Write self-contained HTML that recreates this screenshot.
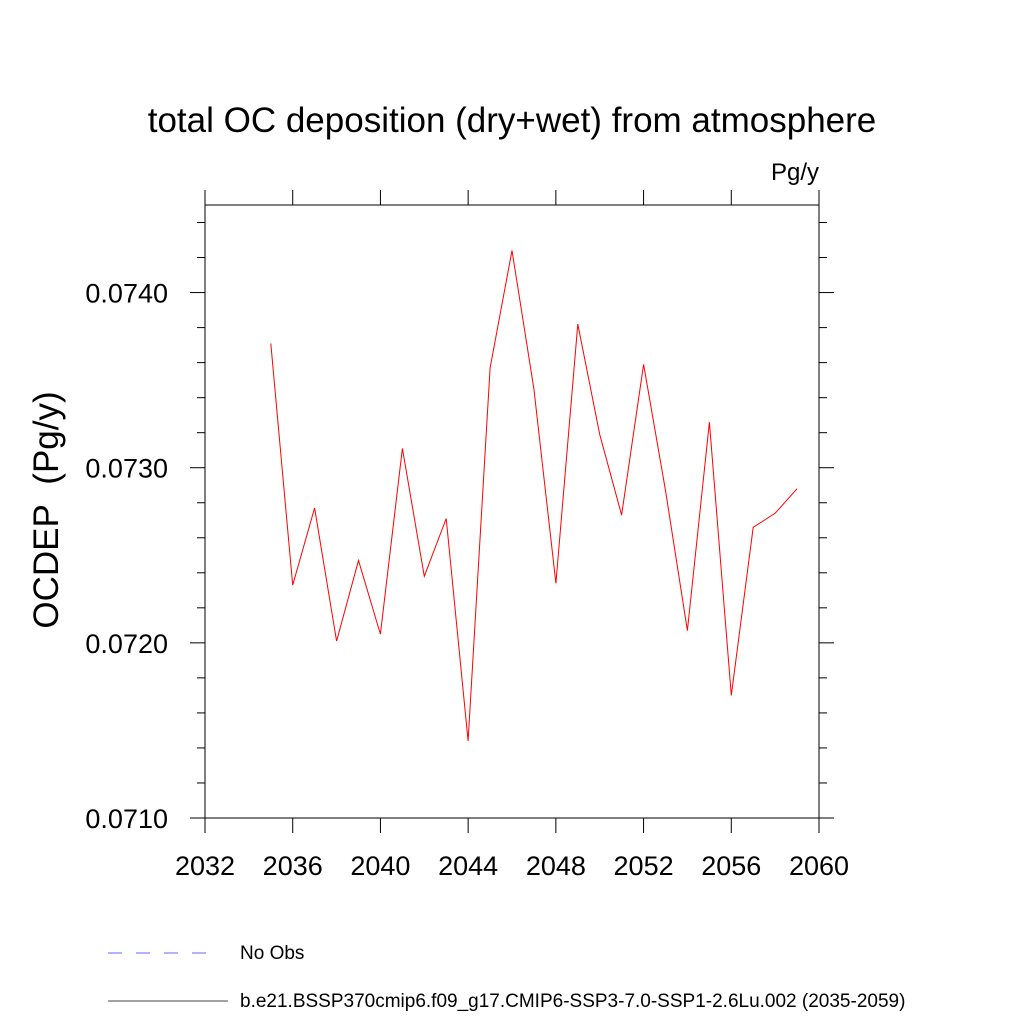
<!DOCTYPE html>
<html><head><meta charset="utf-8"><style>
body{margin:0;background:#fff;}
svg text{font-family:"Liberation Sans",sans-serif;}
</style></head><body>
<svg id="chart" width="1024" height="1024" xmlns="http://www.w3.org/2000/svg">
<text x="512" y="132" font-size="35" text-anchor="middle">total OC deposition (dry+wet) from atmosphere</text>
<text x="819" y="180" font-size="24" text-anchor="end">Pg/y</text>
<text transform="translate(58,510) rotate(-90)" font-size="35" text-anchor="middle">OCDEP&#160;&#160;(Pg/y)</text>
<g id="axes"></g>
<path id="series" fill="none" stroke="#ff0000" stroke-width="1"/>
<line x1="108" y1="953" x2="218" y2="953" stroke="#6666ff" stroke-width="1" stroke-dasharray="14,14"/>
<text x="240" y="959" font-size="19">No Obs</text>
<line x1="108" y1="1001" x2="228" y2="1001" stroke="#444" stroke-width="1"/>
<text x="240" y="1007" font-size="19">b.e21.BSSP370cmip6.f09_g17.CMIP6-SSP3-7.0-SSP1-2.6Lu.002 (2035-2059)</text>
</svg>
<script>
const years=[2035,2036,2037,2038,2039,2040,2041,2042,2043,2044,2045,2046,2047,2048,2049,2050,2051,2052,2053,2054,2055,2056,2057,2058,2059];
const values=[0.07371,0.07233,0.07277,0.07201,0.07247,0.07205,0.07311,0.07238,0.07271,0.07144,0.07357,0.07424,0.07345,0.07234,0.07382,0.07319,0.07273,0.07359,0.07287,0.07207,0.07326,0.07170,0.07266,0.07274,0.07288];
const xTicks=[2032,2036,2040,2044,2048,2052,2056,2060];
const yTicks=[0.0710,0.0720,0.0730,0.0740];
const yTickLabels=["0.0710","0.0720","0.0730","0.0740"];
const L=205,R=819,T=205,B=818,x0=2032,x1=2060,y0=0.0710,y1=0.0745;
const X=v=>L+(v-x0)/(x1-x0)*(R-L);
const Y=v=>B-(v-y0)/(y1-y0)*(B-T);
const NS="http://www.w3.org/2000/svg";
const g=document.getElementById('axes');
function ln(a,b,c,d,name){const e=document.createElementNS(NS,'line');e.setAttribute('x1',a);e.setAttribute('y1',b);e.setAttribute('x2',c);e.setAttribute('y2',d);e.setAttribute('stroke','#000');e.setAttribute('stroke-width','1');


g.appendChild(e);}
function tx(x,y,s,anchor,name){const e=document.createElementNS(NS,'text');e.setAttribute('x',x);e.setAttribute('y',y);e.setAttribute('font-size','27');e.setAttribute('text-anchor',anchor);e.textContent=s;


g.appendChild(e);}
const fr=document.createElementNS(NS,'rect');fr.setAttribute('x',L);fr.setAttribute('y',T);fr.setAttribute('width',R-L);fr.setAttribute('height',B-T);fr.setAttribute('fill','none');fr.setAttribute('stroke','#000');


g.appendChild(fr);
xTicks.forEach(v=>{const x=X(v);ln(x,B,x,B+15,'x-tick');ln(x,T,x,T-15,'x-tick-top');tx(x,875,String(v),'middle','x-tick-label');});
yTicks.forEach((v,i)=>{const y=Y(v);ln(L,y,L-15,y,'y-tick');ln(R,y,R+15,y,'y-tick-right');tx(L-37,y+10,yTickLabels[i],'end','y-tick-label');});
for(let k=1;k<35;k++){const v=y0+k*0.0001;if(k%10===0)continue;if(k%2)continue;const y=Y(v);ln(L,y,L-8,y,'y-minor-tick');ln(R,y,R+8,y,'y-minor-tick-right');}
document.getElementById('series').setAttribute('d',years.map((yr,i)=>(i?'L':'M')+X(yr).toFixed(1)+','+Y(values[i]).toFixed(1)).join(''));
</script>
</body></html>
